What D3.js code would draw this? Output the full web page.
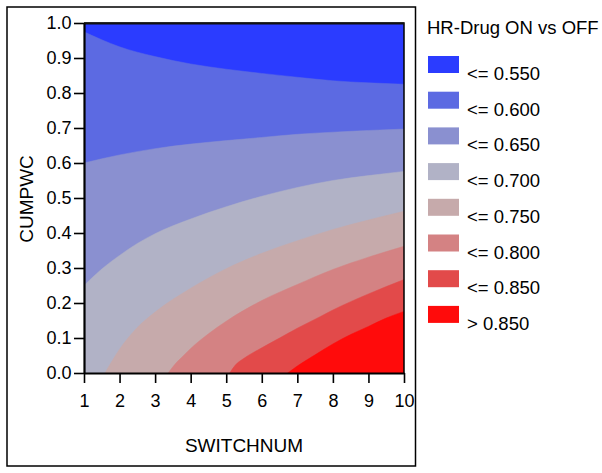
<!DOCTYPE html>
<html>
<head>
<meta charset="utf-8">
<script src="https://cdn.jsdelivr.net/npm/d3@7"></script>
<style>
  body { margin: 0; background: #fff; }
  svg text { font-family: "Liberation Sans", Arial, sans-serif; fill: #000; }
</style>
</head>
<body>
<div id="chart"></div>
<script>
// Band labels and colours (low HR = blue, high HR = red)
var legendLabels = ["<= 0.550", "<= 0.600", "<= 0.650", "<= 0.700", "<= 0.750", "<= 0.800", "<= 0.850", "> 0.850"];
var bandColors = ["#2b3cff", "#5c6ae2", "#8a90d0", "#b1b2c6", "#c6aaab", "#d48283", "#e24a4a", "#ff0b0b"];
var xTicks = [1, 2, 3, 4, 5, 6, 7, 8, 9, 10];
var yTicks = [0, 0.1, 0.2, 0.3, 0.4, 0.5, 0.6, 0.7, 0.8, 0.9, 1.0];

// Contour edges: [SWITCHNUM, CUMPWC]
// everything below an edge has the next (higher) HR band
var edge055 = [[1,0.975],[1.5,0.952],[2,0.932],[3,0.904],[4,0.883],[5,0.868],[6,0.856],[7,0.845],[8,0.835],[9,0.829],[10,0.825]];
var edge060 = [[1,0.600],[2,0.623],[3,0.641],[4,0.654],[5,0.664],[6,0.673],[7,0.682],[8,0.688],[9,0.693],[10,0.697]];
var edge065 = [[1,0.25],[1.5,0.297],[2,0.336],[2.5,0.37],[3,0.398],[4,0.44],[5,0.475],[6,0.505],[7,0.53],[8,0.55],[9,0.564],[10,0.576]];
var edge070 = [[1.59,0],[2,0.068],[2.5,0.13],[3,0.174],[4,0.242],[5,0.298],[6,0.342],[7,0.378],[8,0.41],[9,0.437],[10,0.462]];
var edge075 = [[3.37,0],[3.55,0.024],[3.8,0.05],[4,0.07],[4.5,0.112],[5,0.148],[6,0.207],[7,0.253],[8,0.296],[9,0.331],[10,0.362]];
var edge080 = [[5.1,0],[5.25,0.022],[5.5,0.042],[6,0.072],[6.5,0.1],[7,0.128],[7.64,0.161],[8,0.18],[9,0.226],[10,0.267]];
var edge085 = [[6.73,0],[7,0.02],[7.5,0.052],[8,0.083],[8.5,0.11],[9,0.133],[9.5,0.157],[10,0.176]];
var edges = [edge055, edge060, edge065, edge070, edge075, edge080, edge085];

var width = 602, height = 473;
var plot = { left: 84, right: 404, top: 23, bottom: 373 };

var svg = d3.select("#chart").append("svg")
  .attr("width", width)
  .attr("height", height);

// outer frame round the graph part
svg.append("rect")
  .attr("x", 7).attr("y", 7)
  .attr("width", 408.5).attr("height", 459)
  .attr("fill", "none")
  .attr("stroke", "#000")
  .attr("stroke-width", 1.5);

var x = d3.scaleLinear().domain([1, 10]).range([plot.left, plot.right]);
var y = d3.scaleLinear().domain([0, 1]).range([plot.bottom, plot.top]);

svg.append("clipPath").attr("id", "plot-clip")
  .append("rect")
  .attr("x", plot.left).attr("y", plot.top)
  .attr("width", plot.right - plot.left).attr("height", plot.bottom - plot.top);

var bands = svg.append("g").attr("clip-path", "url(#plot-clip)");

// lowest band fills the whole area first
bands.append("rect")
  .attr("x", plot.left).attr("y", plot.top)
  .attr("width", plot.right - plot.left).attr("height", plot.bottom - plot.top)
  .attr("fill", bandColors[0]);

var area = d3.area()
  .x(function(d) { return x(d[0]); })
  .y0(y(0))
  .y1(function(d) { return y(d[1]); })
  .curve(d3.curveMonotoneX);

edges.forEach(function(edge, i) {
  bands.append("path")
    .datum(edge)
    .attr("d", area)
    .attr("fill", bandColors[i + 1])
    .attr("stroke", bandColors[i + 1])
    .attr("stroke-width", 0.5);
});

// plot border (top + right)
svg.append("path")
  .attr("d", "M" + plot.left + "," + plot.top + "H" + plot.right + "V" + plot.bottom)
  .attr("fill", "none")
  .attr("stroke", "#000")
  .attr("stroke-width", 1.5);
svg.append("line")
  .attr("x1", plot.left).attr("x2", plot.right)
  .attr("y1", plot.top + 0.5).attr("y2", plot.top + 0.5)
  .attr("stroke", "#111")
  .attr("stroke-width", 2);

// axes
var xAxis = svg.append("g")
  .attr("transform", "translate(0," + plot.bottom + ")")
  .call(d3.axisBottom(x).tickValues(xTicks).tickFormat(d3.format("d"))
    .tickSize(10).tickSizeOuter(0).tickPadding(11));

var yAxis = svg.append("g")
  .attr("transform", "translate(" + plot.left + ",0)")
  .call(d3.axisLeft(y).tickValues(yTicks).tickFormat(d3.format(".1f"))
    .tickSize(10).tickSizeOuter(0).tickPadding(2.5));

[xAxis, yAxis].forEach(function(g) {
  g.select(".domain").attr("stroke", "#000").attr("stroke-width", 2.2);
  g.selectAll(".tick line").attr("stroke", "#000").attr("stroke-width", 1.6);
  g.selectAll(".tick text")
    .style("font-family", "'Liberation Sans', Arial, sans-serif")
    .style("font-size", "18px")
    .attr("fill", "#000");
});

// axis titles
svg.append("text")
  .attr("x", (plot.left + plot.right) / 2)
  .attr("y", 452)
  .attr("text-anchor", "middle")
  .style("font-size", "19px")
  .text("SWITCHNUM");

svg.append("text")
  .attr("transform", "translate(33,199) rotate(-90)")
  .attr("text-anchor", "middle")
  .style("font-size", "19px")
  .text("CUMPWC");

// legend
var legend = svg.append("g").attr("transform", "translate(427,0)");

legend.append("text")
  .attr("x", 0).attr("y", 34)
  .style("font-size", "18.5px")
  .text("HR-Drug ON vs OFF");

var rows = legend.selectAll("g.row")
  .data(legendLabels)
  .enter().append("g")
  .attr("class", "row")
  .attr("transform", function(d, i) { return "translate(0," + (56 + i * 35.7) + ")"; });

rows.append("rect")
  .attr("x", 1).attr("y", 0)
  .attr("width", 31).attr("height", 17)
  .attr("fill", function(d, i) { return bandColors[i]; });

rows.append("text")
  .attr("x", 40).attr("y", 24)
  .style("font-size", "18.5px")
  .text(function(d) { return d; });
</script>
</body>
</html>
